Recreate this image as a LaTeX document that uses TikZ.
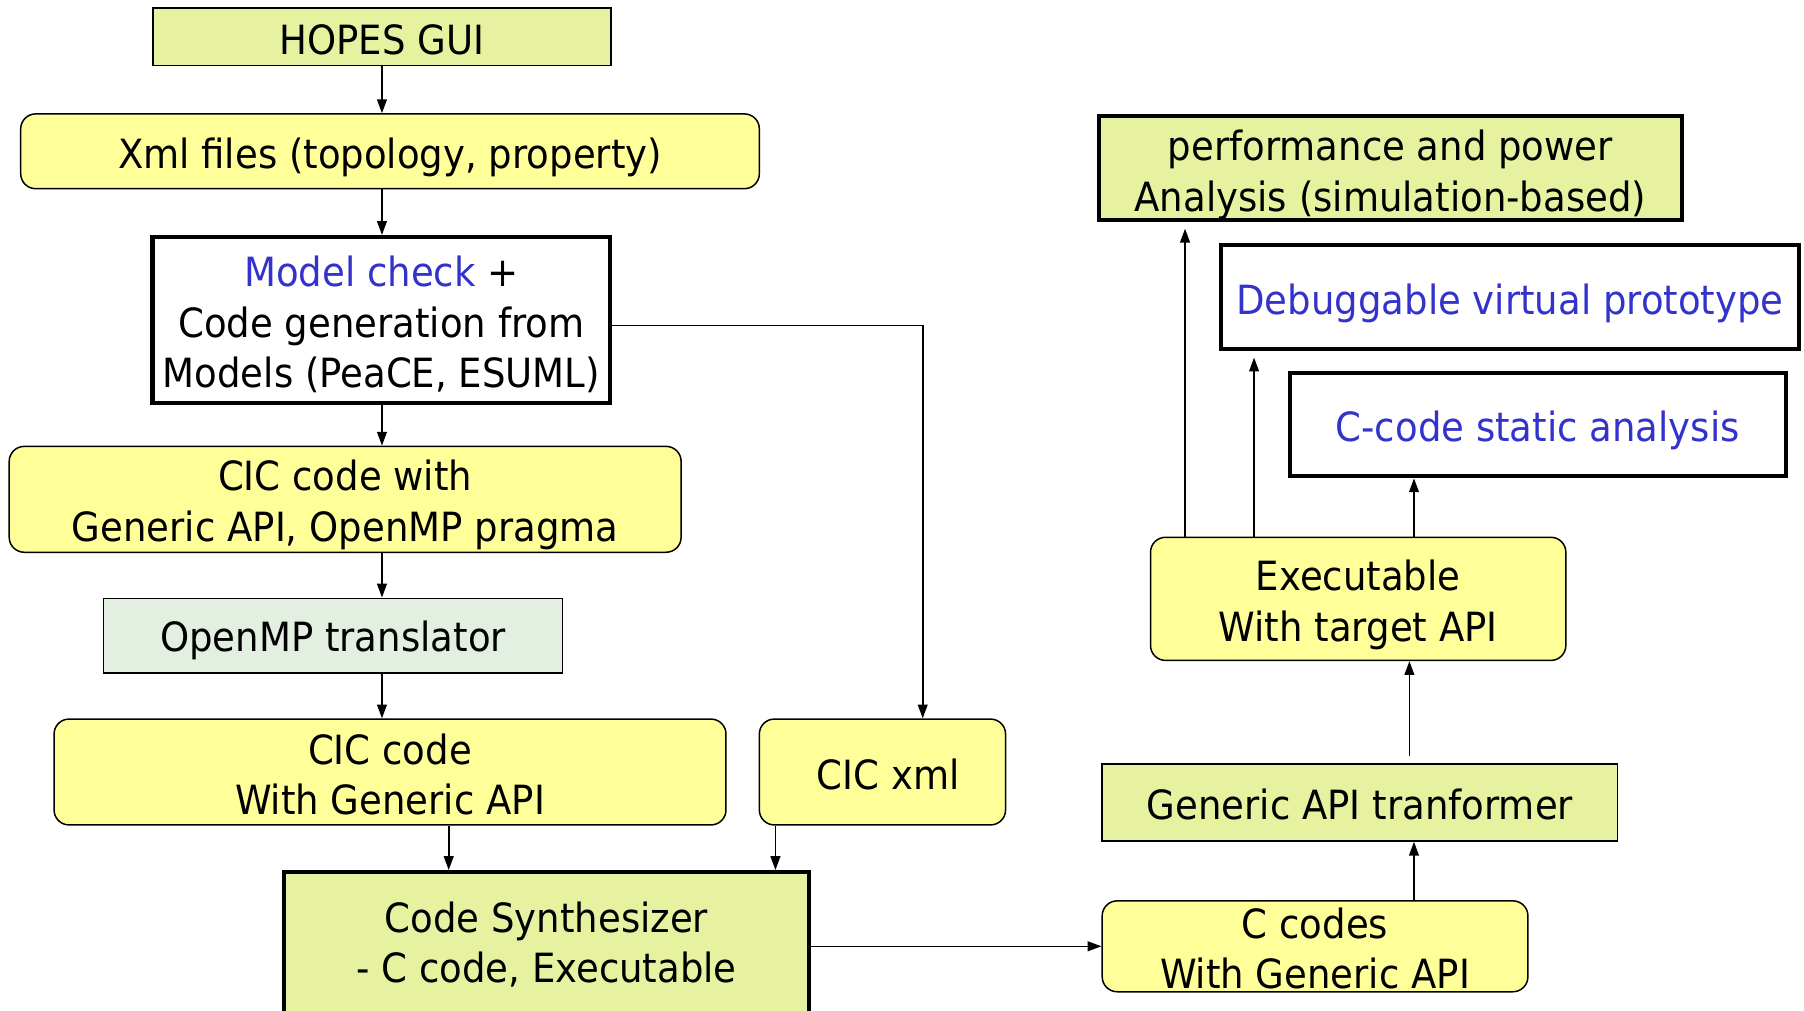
\documentclass[tikz,border=0pt]{standalone}
\usepackage{fontspec}
\setmainfont[FakeStretch=0.92]{DejaVu Sans}
\usetikzlibrary{arrows.meta,calc}

\definecolor{limefill}{RGB}{230,242,160}
\definecolor{yellowfill}{RGB}{255,255,153}
\definecolor{mintfill}{RGB}{226,239,225}
\definecolor{linkblue}{RGB}{51,51,204}

\tikzset{
  box/.style={draw=black, line width=1.3pt, inner sep=0pt},
  plainbox/.style={box, fill=limefill},
  roundbox/.style={box, fill=yellowfill, rounded corners=13pt},
  mintbox/.style={box, fill=mintfill},
  heavybox/.style={box, line width=3.6pt},
  txt/.style={inner sep=0pt, align=center, font=\fontsize{35}{44}\selectfont},
  arr/.style={line width=1.4pt, -{Triangle[length=12pt,width=8.5pt]}},
}

\begin{document}
\begin{tikzpicture}[x=1pt, y=-1pt]
\useasboundingbox (0,0) rectangle (1568,878);
\clip (0,0) rectangle (1568,878);

% left column: design entry and code generation
\node[plainbox, minimum width=398, minimum height=50] (hopes) at (332,32) {};
\node[txt] (hopes-t) at ([yshift=-3pt]hopes.center) {HOPES GUI};

\node[roundbox, minimum width=642, minimum height=65] (xml) at (339,131.5) {};
\node[txt] (xml-t) at ([yshift=-5pt]xml.center) {Xml files (topology, property)};

\node[heavybox, fill=white, minimum width=398, minimum height=144] (model) at (331.5,278) {};
\node[txt] (model-t) at ([yshift=-4pt]model.center)
  {\textcolor{linkblue}{Model check} +\\Code generation from\\Models (PeaCE, ESUML)};

\node[roundbox, minimum width=584, minimum height=92] (cicw) at (300,434) {};
\node[txt] (cicw-t) at ([yshift=-5pt]cicw.center) {CIC code with\\Generic API, OpenMP pragma};

\node[mintbox, minimum width=399, minimum height=65] (omp) at (289.5,552.5) {};
\node[txt] (omp-t) at ([yshift=-4pt]omp.center) {OpenMP translator};

\node[roundbox, minimum width=584, minimum height=92] (cicg) at (339,671) {};
\node[txt] (cicg-t) at ([yshift=-2pt]cicg.center) {CIC code\\With Generic API};

\node[roundbox, minimum width=214, minimum height=92] (cicxml) at (767,671) {};
\node[txt] (cicxml-t) at ([xshift=5pt,yshift=-2pt]cicxml.center) {CIC xml};

\node[heavybox, fill=limefill, minimum width=456, minimum height=124] (synth) at (475,820) {};
\node[txt] (synth-t) at ([yshift=-1pt]synth.center) {Code Synthesizer\\- C code, Executable};

% right column: target code and analysis
\node[roundbox, minimum width=370, minimum height=79] (ccodes) at (1143,822.5) {};
\node[txt] (ccodes-t) at ([yshift=-2pt]ccodes.center) {C codes\\With Generic API};

\node[plainbox, minimum width=448, minimum height=67] (gat) at (1182,697.5) {};
\node[txt] (gat-t) at ([yshift=-2pt]gat.center) {Generic API tranformer};

\node[roundbox, minimum width=361, minimum height=107] (exec) at (1180.5,520.5) {};
\node[txt] (exec-t) at ([yshift=-5pt]exec.center) {Executable\\With target API};

\node[heavybox, fill=white, minimum width=431, minimum height=90] (csa) at (1336.5,369) {};
\node[txt, text=linkblue] (csa-t) at ([yshift=-5pt]csa.center) {C-code static analysis};

\node[heavybox, fill=white, minimum width=503, minimum height=90] (dbg) at (1312.5,258) {};
\node[txt, text=linkblue] (dbg-t) at ([yshift=-6pt]dbg.center) {Debuggable virtual prototype};

\node[heavybox, fill=limefill, minimum width=507, minimum height=90] (perf) at (1208.5,146) {};
\node[txt] (perf-t) at ([yshift=-6pt]perf.center) {performance and power\\Analysis (simulation-based)};

% columns of the vertical connectors
\coordinate (colL) at (332,0);
\coordinate (colA) at (390,0);
\coordinate (colB) at (674,0);
\coordinate (colX) at (802,0);
\coordinate (colR) at (1229,0);
\coordinate (colG) at (1225,0);
\coordinate (colD) at (1090,0);
\coordinate (colP) at (1030,0);

% connectors, left column
\draw[arr] (hopes.south -| colL) -- (xml.north -| colL);
\draw[arr] (xml.south -| colL) -- (model.north -| colL);
\draw[arr] (model.south -| colL) -- (cicw.north -| colL);
\draw[arr] (cicw.south -| colL) -- (omp.north -| colL);
\draw[arr] (omp.south -| colL) -- (cicg.north -| colL);
\draw[arr] (cicg.south -| colA) -- (synth.north -| colA);
\draw[arr] (cicxml.south -| colB) -- (synth.north -| colB);
\draw[arr] ([yshift=-5pt]model.east) -| (cicxml.north -| colX);

% connectors, right column
\draw[arr] (synth.east |- ccodes.west) -- (ccodes.west);
\draw[arr] (ccodes.north -| colR) -- (gat.south -| colR);
\draw[arr, shorten <=6pt] (gat.north -| colG) -- (exec.south -| colG);
\draw[arr] (exec.north -| colR) -- (csa.south -| colR);
\draw[arr, shorten >=6pt] (exec.north -| colD) -- (dbg.south -| colD);
\draw[arr, shorten >=6pt] (exec.north -| colP) -- (perf.south -| colP);
\end{tikzpicture}
\end{document}
